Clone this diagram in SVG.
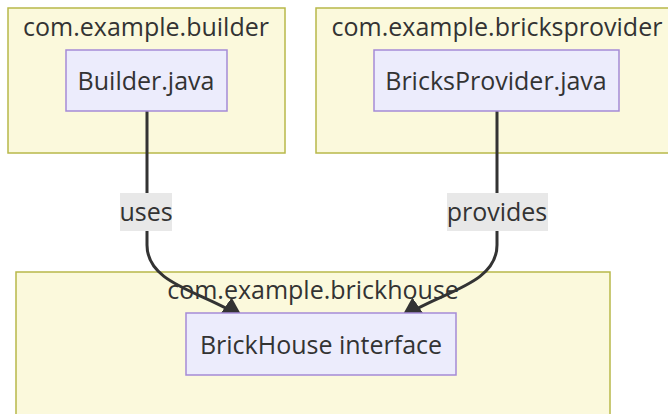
<svg xmlns="http://www.w3.org/2000/svg" width="668" height="414" viewBox="0 0 668 414">
  <style>
    .cluster { fill: #fbf9dc; stroke: #b8b84a; stroke-width: 1.5; }
    .node { fill: #ececfc; stroke: #a58bd6; stroke-width: 1.5; }
    .lbl { font-family: "Open Sans", "Noto Sans", sans-serif; font-size: 25px; fill: #333; text-anchor: middle; }
    .edge { fill: none; stroke: #333; stroke-width: 3; }
    .elbg { fill: #e8e8e8; }
  </style>
  <defs>
    <marker id="arrow" viewBox="0 0 10 10" refX="10" refY="5" markerWidth="7" markerHeight="7" orient="auto" markerUnits="strokeWidth">
      <path d="M0,0 L10,5 L0,10 z" fill="#333"/>
    </marker>
  </defs>
  <rect width="668" height="414" fill="#ffffff"/>

  <!-- package clusters -->
  <g id="cluster-builder">
    <rect class="cluster" x="8" y="8" width="277" height="145"/>
    <text class="lbl" x="146" y="36">com.example.builder</text>
  </g>
  <g id="cluster-bricksprovider">
    <rect class="cluster" x="316" y="8" width="370" height="145"/>
    <text class="lbl" x="497" y="36">com.example.bricksprovider</text>
  </g>
  <g id="cluster-brickhouse">
    <rect class="cluster" x="16" y="272" width="594" height="160"/>
    <text class="lbl" x="313" y="299">com.example.brickhouse</text>
  </g>

  <!-- connectors (arrow tips run just under the target node) -->
  <g id="edges">
    <path class="edge" d="M147,111 V245 C147,285 205,292 243,318" marker-end="url(#arrow)"/>
    <path class="edge" d="M497,111 V245 C497,285 439,292 401,318" marker-end="url(#arrow)"/>
    <g id="label-uses">
      <rect class="elbg" x="120" y="193" width="52" height="38"/>
      <text class="lbl" x="146" y="221">uses</text>
    </g>
    <g id="label-provides">
      <rect class="elbg" x="447" y="193" width="101" height="38"/>
      <text class="lbl" x="497" y="221">provides</text>
    </g>
  </g>

  <!-- class nodes -->
  <g id="node-builder">
    <rect class="node" x="66" y="50" width="161" height="61"/>
    <text class="lbl" x="146" y="90">Builder.java</text>
  </g>
  <g id="node-bricksprovider">
    <rect class="node" x="374" y="50" width="245" height="61"/>
    <text class="lbl" x="496" y="90">BricksProvider.java</text>
  </g>
  <g id="node-brickhouse">
    <rect class="node" x="186" y="313" width="270" height="62"/>
    <text class="lbl" x="321" y="354">BrickHouse interface</text>
  </g>
</svg>
